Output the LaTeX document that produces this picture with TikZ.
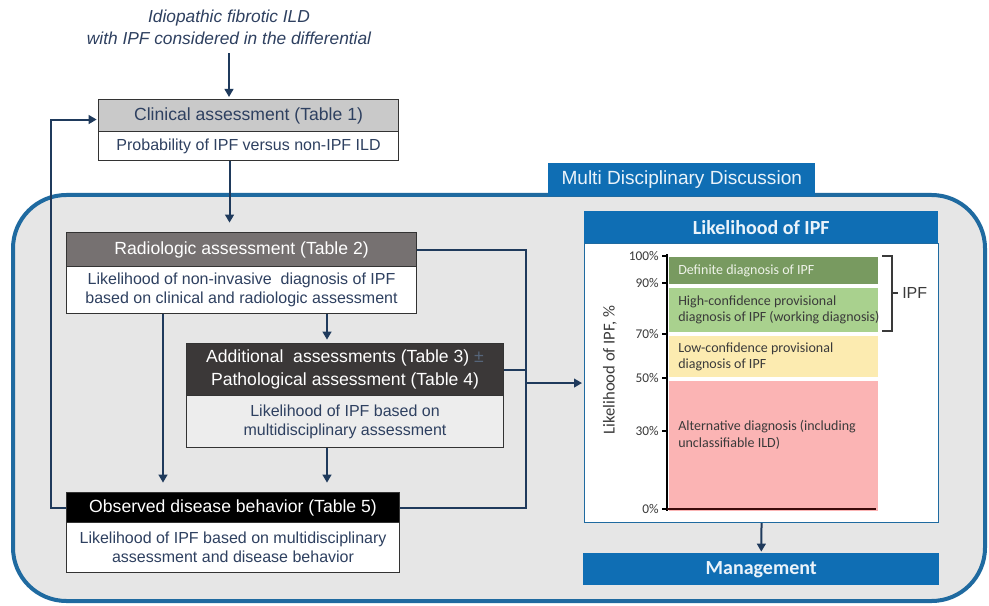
\documentclass[tikz,border=0pt]{standalone}
\usepackage{fontspec}
\setmainfont{Liberation Sans}
\newfontfamily\carlito{Carlito}
\usetikzlibrary{arrows.meta,calc}

\definecolor{navy}{HTML}{1F3A5C}
\definecolor{txtnavy}{HTML}{2E4060}
\definecolor{mddblue}{HTML}{0F6EB4}
\definecolor{borderblue}{HTML}{1F6AA0}
\definecolor{bggray}{HTML}{E6E6E6}
\definecolor{clinhdr}{HTML}{C9C9C9}
\definecolor{radhdr}{HTML}{767171}
\definecolor{addhdr}{HTML}{3B3838}
\definecolor{addbody}{HTML}{EDEDED}
\definecolor{defgreen}{HTML}{789A60}
\definecolor{highgreen}{HTML}{A9D18E}
\definecolor{lowyellow}{HTML}{FCEBB0}
\definecolor{altpink}{HTML}{FBB4B4}
\definecolor{boxedge}{HTML}{333333}
\definecolor{tabtext}{HTML}{EAF3FA}
\definecolor{pmcol}{HTML}{56657A}
\definecolor{charttxt}{HTML}{3A3A3A}
\definecolor{deftxt}{HTML}{EEF2E8}
\definecolor{axisred}{HTML}{3B0A0A}

\begin{document}
\begin{tikzpicture}[x=0.75pt,y=-0.75pt,
  hdr/.style={draw=boxedge, line width=0.8pt, anchor=north west, inner sep=0pt, align=center, font=\fontsize{13.2}{17}\selectfont},
  body/.style={draw=boxedge, line width=0.8pt, anchor=north west, inner sep=0pt, align=center, fill=white, text=txtnavy, font=\fontsize{12}{14.5}\selectfont},
  bluebar/.style={fill=mddblue, anchor=north west, inner sep=0pt, text=tabtext},
  conn/.style={draw=navy, line width=1.5pt},
  arr/.style={conn, -{Triangle[length=6pt,width=6.5pt]}},
  bandtxt/.style={anchor=west, align=left, inner sep=0pt, text=charttxt, font=\carlito\fontsize{10.5}{12.5}\selectfont},
  ticklbl/.style={anchor=east, inner sep=0pt, text=charttxt, font=\carlito\fontsize{10}{12}\selectfont}
]
\useasboundingbox (0,0) rectangle (989,606);
\fill[white] (0,0) rectangle (989,606);

% outer MDD frame
\draw[draw=borderblue, line width=3pt, fill=bggray, rounded corners=40pt] (13,195) rectangle (985,601);
\node[bluebar, minimum width=200.25pt, minimum height=24.75pt, font=\fontsize{14.3}{16}\selectfont] (mdd) at (548,163) {Multi Disciplinary Discussion};

% title
\node[text=txtnavy, font=\itshape\fontsize{13}{16.5}\selectfont, align=center] (title) at (229,27) {Idiopathic fibrotic ILD\\with IPF considered in the differential};

% clinical
\node[hdr, fill=clinhdr, text=txtnavy, minimum width=225pt, minimum height=24pt] (clinH) at (98,99) {Clinical assessment (Table 1)};
\node[body, minimum width=225pt, minimum height=21.75pt] (clinB) at (98,131) {Probability of IPF versus non-IPF ILD};

% radiologic
\node[hdr, fill=radhdr, text=white, minimum width=262.5pt, minimum height=25.5pt] (radH) at (66,232) {Radiologic assessment (Table 2)};
\node[body, minimum width=262.5pt, minimum height=35.25pt] (radB) at (66,266) {Likelihood of non-invasive\ \ diagnosis of IPF\\based on clinical and radiologic assessment};

% additional
\node[hdr, fill=addhdr, text=white, minimum width=237.75pt, minimum height=39pt] (addH) at (186,343) {Additional\ \ assessments (Table 3)\ {\color{pmcol}±}\\Pathological assessment (Table 4)};
\node[body, fill=addbody, minimum width=237.75pt, minimum height=39pt] (addB) at (186,395) {Likelihood of IPF based on\\multidisciplinary assessment};

% observed
\node[hdr, fill=black, text=white, minimum width=249.75pt, minimum height=22.5pt] (obsH) at (66,492) {Observed disease behavior (Table 5)};
\node[body, minimum width=249.75pt, minimum height=37.5pt] (obsB) at (66,522) {Likelihood of IPF based on multidisciplinary\\assessment and disease behavior};

% likelihood panel
\node[bluebar, minimum width=265.5pt, minimum height=24pt, font=\carlito\bfseries\fontsize{15}{17}\selectfont] (lhdr) at (584,211) {Likelihood of IPF};
\node[draw=borderblue, line width=0.8pt, fill=white, minimum width=265.5pt, minimum height=209.25pt, anchor=north west, inner sep=0pt] (panel) at (584,243) {};
\node[bluebar, minimum width=267pt, minimum height=24pt, font=\carlito\bfseries\fontsize{15}{17}\selectfont] (mgmt) at (583,553) {Management};

% chart bands
\fill[defgreen] (669,257) rectangle (878,284);
\fill[highgreen] (669,288) rectangle (878,332);
\fill[lowyellow] (669,336) rectangle (878,377);
\fill[altpink] (669,381) rectangle (878,511);
\node[bandtxt, text=deftxt] (tdef) at (678,271) {Definite diagnosis of IPF};
\node[bandtxt] (thigh) at (678,310) {High-confidence provisional\\diagnosis of IPF (working diagnosis)};
\node[bandtxt] (tlow) at (678,357) {Low-confidence provisional\\diagnosis of IPF};
\node[bandtxt] (talt) at (678,435) {Alternative diagnosis (including\\unclassifiable ILD)};

% axis
\draw[line width=2.2pt, black] (667,254) -- (667,511);
\draw[line width=2.2pt, axisred] (667,509) -- (876,509);
\foreach \yy/\lab in {256/{100\%}, 283/{90\%}, 334/{70\%}, 378/{50\%}, 431/{30\%}, 509/{0\%}}{
  \draw[line width=2.2pt, black] (662,\yy) -- (667,\yy);
  \node[ticklbl] at (659,\yy) {\lab};
}
\node[rotate=90, text=charttxt, font=\carlito\fontsize{12.5}{14}\selectfont] (ylab) at (610,370) {Likelihood of IPF, \%};

% bracket
\draw[line width=0.8pt, charttxt] (882,256) -- (892,256) -- (892,331) -- (882,331);
\draw[line width=0.8pt, charttxt] (892,293) -- (898,293);
\node[anchor=west, inner sep=0pt, text=charttxt, font=\fontsize{12}{14}\selectfont] (ipf) at (902,293) {IPF};

% connectors
\coordinate (x163) at (163,0);
\coordinate (x327) at (327,0);
\coordinate (x526) at (526,0);
\coordinate (x51) at (51,0);
\draw[arr, shorten <=3pt, shorten >=1.5pt] (title.south) -- (title.south |- clinH.north);
\draw[arr, shorten >=7pt] ([xshift=-14.25pt]clinB.south) -- ([xshift=-9pt]radH.north);
\draw[arr, shorten >=2.5pt] (radB.south -| x327) -- (addH.north -| x327);
\draw[arr, shorten >=7pt] (radB.south -| x163) -- (obsH.north -| x163);
\draw[arr, shorten >=7pt] (addB.south -| x327) -- (obsH.north -| x327);
\draw[arr, shorten >=1pt] (obsH.west) -- (obsH.west -| x51) |- ([yshift=-3pt]clinH.west);
\draw[conn] (radH.east) -- (radH.east -| x526) |- (obsH.east);
\draw[conn] (addH.east) -- (addH.east -| x526);
\draw[arr, shorten >=1.5pt] (panel.west -| x526) -- (panel.west);
\draw[arr, shorten >=1pt] (panel.south) -- (mgmt.north);
\end{tikzpicture}
\end{document}
